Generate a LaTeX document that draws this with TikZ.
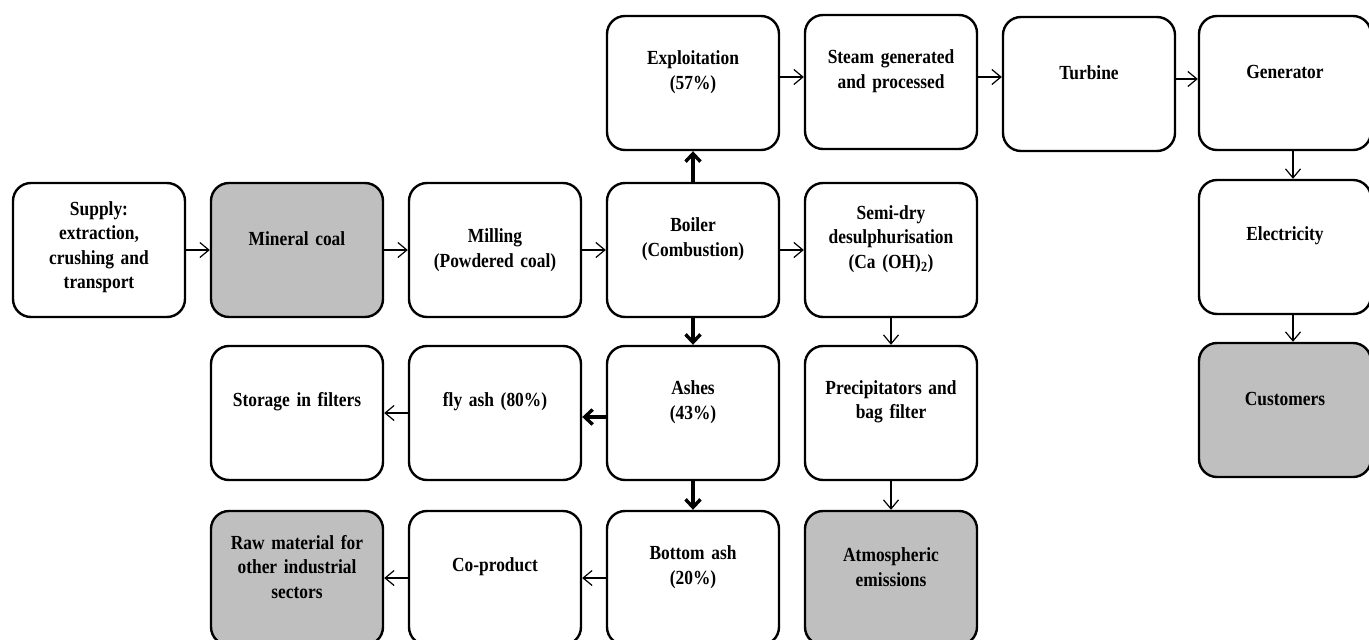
\documentclass[tikz,border=0pt]{standalone}
\usepackage{fontspec}
\usepackage{tikz}
\usetikzlibrary{arrows.meta}
\newfontfamily\stagefont[FakeStretch=0.87]{Liberation Serif}
\definecolor{coalgray}{RGB}{191,191,191}
\newcommand\stagelift[1]{\endgraf\kern#1}

\begin{document}
\begin{tikzpicture}[x=1pt,y=-1pt,
    stage/.style={draw, line width=2.4pt, rounded corners=18pt, fill=white,
      minimum width=172pt, minimum height=134pt, inner sep=0pt,
      text width=166pt, align=center,
      font=\stagefont\bfseries\fontsize{20pt}{24.5pt}\selectfont,
      execute at end node={\stagelift{#1}}},
    stage/.default=22pt,
    endpoint/.style={fill=coalgray},
    flow/.style={line width=1.2pt, -{Straight Barb[length=9pt,width=15pt]}},
    mainflow/.style={line width=3.4pt, -{Straight Barb[length=8pt,width=15pt]}}]
        \useasboundingbox (0,0) rectangle (1369,640);

        % Fila superior: vapor y energia
        \node[stage] (explo) at (693,83) {Exploitation\\(57\%)};
        \node[stage] (steam) at (891,82) {Steam generated\\and processed};
        \node[stage] (turbine) at (1089,84) {Turbine};
        \node[stage] (gen) at (1285,83) {Generator};

        % Fila del carbon
        \node[stage=6pt] (supply) at (99,250) {Supply:\\extraction,\\crushing and\\transport};
        \node[stage,endpoint] (mineral) at (297,250) {Mineral coal};
        \node[stage=0pt] (milling) at (495,250) {Milling\\(Powdered coal)};
        \node[stage] (boiler) at (693,250) {Boiler\\(Combustion)};
        \node[stage] (desulph) at (891,250) {Semi-dry\\desulphurisation\\(Ca (OH)\textsubscript{2})};
        \node[stage] (elec) at (1285,247) {Electricity};

        % Cenizas
        \node[stage] (storage) at (297,413) {Storage in filters};
        \node[stage] (flyash) at (495,413) {fly ash (80\%)};
        \node[stage] (ashes) at (693,413) {Ashes\\(43\%)};
        \node[stage] (precip) at (891,413) {Precipitators and\\bag filter};
        \node[stage,endpoint] (cust) at (1285,410) {Customers};

        % Fila inferior
        \node[stage,endpoint] (raw) at (297,578) {Raw material for\\other industrial\\sectors};
        \node[stage] (coprod) at (495,578) {Co-product};
        \node[stage] (bottom) at (693,578) {Bottom ash\\(20\%)};
        \node[stage,endpoint] (atmos) at (891,578) {Atmospheric\\emissions};

        % Flechas finas
        \draw[flow] (supply) -- (mineral);
        \draw[flow] (mineral) -- (milling);
        \draw[flow] (milling) -- (boiler);
        \draw[flow] (boiler) -- (desulph);
        \draw[flow] ([yshift=6pt]explo.east) -- ([yshift=6pt]explo.east -| steam.west);
        \draw[flow] ([yshift=5pt]steam.east) -- ([yshift=5pt]steam.east -| turbine.west);
        \draw[flow] ([yshift=5pt]turbine.east) -- ([yshift=5pt]turbine.east -| gen.west);
        \draw[flow] ([xshift=8pt]gen.south) -- ([xshift=8pt]elec.north);
        \draw[flow] ([xshift=8pt]elec.south) -- ([xshift=8pt]cust.north);
        \draw[flow] (desulph) -- (precip);
        \draw[flow] (precip) -- (atmos);
        \draw[flow] (flyash) -- (storage);
        \draw[flow] (bottom) -- (coprod);
        \draw[flow] (coprod) -- (raw);

        % Flechas gruesas
        \draw[mainflow] (boiler) -- (explo);
        \draw[mainflow] (boiler) -- (ashes);
        \draw[mainflow] ([yshift=-4pt]ashes.west) -- ([yshift=-4pt]flyash.east);
        \draw[mainflow] (ashes) -- (bottom);

    \end{tikzpicture}
\end{document}
